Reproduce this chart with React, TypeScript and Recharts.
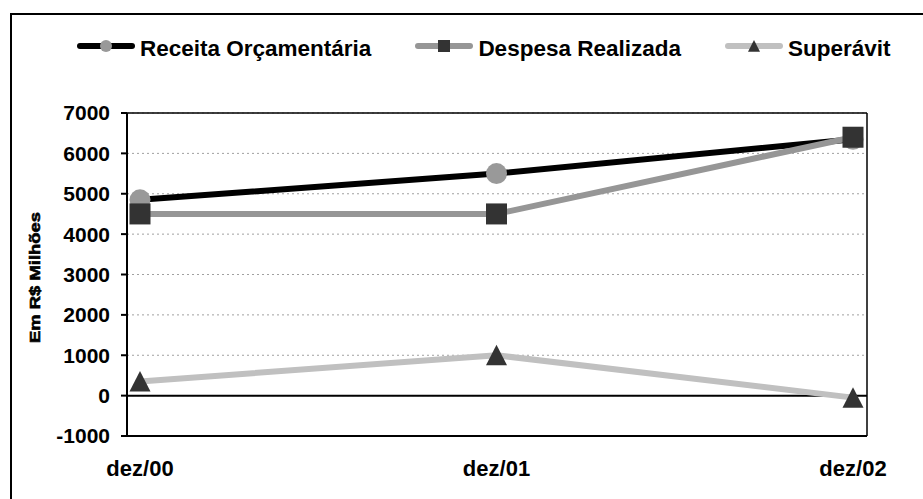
import React from 'react';
import { LineChart, Line, XAxis, YAxis, CartesianGrid, ReferenceLine, Label } from 'recharts';

const categories = ['dez/00', 'dez/01', 'dez/02'];
const receita = [4850, 5500, 6350];
const despesa = [4500, 4500, 6400];
const superavit = [350, 1000, -50];
const yTicks = [-1000, 0, 1000, 2000, 3000, 4000, 5000, 6000, 7000];

const data = categories.map((c, i) => ({
  cat: c,
  receita: receita[i],
  despesa: despesa[i],
  superavit: superavit[i],
}));

const FONT = '"Liberation Sans", Arial, sans-serif';

const seriesInfo = [
  { key: 'receita', name: 'Receita Orçamentária', line: '#000000', marker: 'circle', mfill: '#999999' },
  { key: 'despesa', name: 'Despesa Realizada', line: '#969696', marker: 'square', mfill: '#333333' },
  { key: 'superavit', name: 'Superávit', line: '#C0C0C0', marker: 'triangle', mfill: '#333333' },
];

const renderMarker = (type: string, fill: string, cx: number, cy: number, s: number, key?: any) => {
  if (type === 'circle') return <circle key={key} cx={cx} cy={cy} r={s / 2} fill={fill} />;
  if (type === 'square') return <rect key={key} x={cx - s / 2} y={cy - s / 2} width={s} height={s} fill={fill} />;
  return (
    <polygon
      key={key}
      points={`${cx},${cy - s * 0.5} ${cx - s / 2},${cy + s * 0.48} ${cx + s / 2},${cy + s * 0.48}`}
      fill={fill}
    />
  );
};

const makeDot = (type: string, fill: string) => (props: any) => {
  const { cx, cy, index } = props;
  if (cx == null || cy == null) return <g key={index} />;
  return renderMarker(type, fill, cx, cy, 21, index);
};

const ChartLegend = () => (
  <div style={{ position: 'absolute', left: 0, top: 38, display: 'flex', alignItems: 'center', paddingLeft: 77, fontFamily: FONT }}>
    {seriesInfo.map((s, i) => (
      <div key={s.key} style={{ display: 'flex', alignItems: 'center', marginRight: i < 2 ? 44 : 0 }}>
        <svg width={58} height={20} style={{ display: 'block', marginTop: -6 }}>
          <line x1={3} y1={10} x2={55} y2={10} stroke={s.line} strokeWidth={6} strokeLinecap="round" />
          {renderMarker(s.marker, s.mfill, 29, 10, 12)}
        </svg>
        <span style={{ marginLeft: 5, fontSize: 22.5, fontWeight: 700, color: '#000', lineHeight: 1 }}>{s.name}</span>
      </div>
    ))}
  </div>
);

const YLabel = (props: any) => {
  const vb = props.viewBox || { y: 113, height: 323 };
  const cy = vb.y + vb.height / 2 + 3;
  return (
    <text
      x={34}
      y={cy}
      transform={`rotate(-90, 34, ${cy})`}
      textAnchor="middle"
      dominantBaseline="central"
      fontFamily={FONT}
      fontWeight={900}
      fontSize={15}
      textLength={131}
      lengthAdjust="spacingAndGlyphs"
      fill="#000"
      stroke="#000"
      strokeWidth={0.6}
    >
      Em R$ Milhões
    </text>
  );
};

export default function App() {
  return (
    <div style={{ position: 'absolute', left: 0, top: 0, width: 923, height: 499, overflow: 'hidden', background: '#fff' }}>
      <div
        style={{
          position: 'absolute',
          left: 10,
          top: 13,
          width: 940,
          height: 520,
          border: '2px solid #000',
          boxSizing: 'border-box',
        }}
      />
      <ChartLegend />
      <div style={{ position: 'absolute', left: 0, top: 0 }}>
        <LineChart width={923} height={499} data={data} margin={{ top: 113, right: 56, left: 0, bottom: 0 }}>
          <CartesianGrid vertical={false} stroke="#a0a0a0" strokeDasharray="2 3" strokeWidth={1} />
          <CartesianGrid
            stroke="#000"
            strokeWidth={1.5}
            horizontalCoordinatesGenerator={({ offset }: any) => [offset.top]}
            verticalCoordinatesGenerator={({ offset }: any) => [offset.left + offset.width]}
          />
          <XAxis
            dataKey="cat"
            height={63}
            padding={{ left: 13, right: 14 }}
            axisLine={{ stroke: '#000', strokeWidth: 2 }}
            tickLine={false}
            tickMargin={18}
            tick={{ fontFamily: FONT, fontSize: 22, fontWeight: 700, fill: '#000' }}
            interval={0}
          />
          <YAxis
            width={127}
            domain={[-1000, 7000]}
            ticks={yTicks}
            interval={0}
            axisLine={{ stroke: '#000', strokeWidth: 2 }}
            tickLine={{ stroke: '#000', strokeWidth: 2 }}
            tickSize={6}
            tickMargin={11}
            tick={{ fontFamily: FONT, fontSize: 21, fontWeight: 700, fill: '#000' }}
          >
            <Label content={YLabel} />
          </YAxis>
          <ReferenceLine y={0} stroke="#000" strokeWidth={2} />
          {seriesInfo.map((s) => (
            <Line
              key={s.key}
              dataKey={s.key}
              name={s.name}
              type="linear"
              stroke={s.line}
              strokeWidth={6}
              dot={makeDot(s.marker, s.mfill)}
              activeDot={false}
              isAnimationActive={false}
            />
          ))}
        </LineChart>
      </div>
    </div>
  );
}
